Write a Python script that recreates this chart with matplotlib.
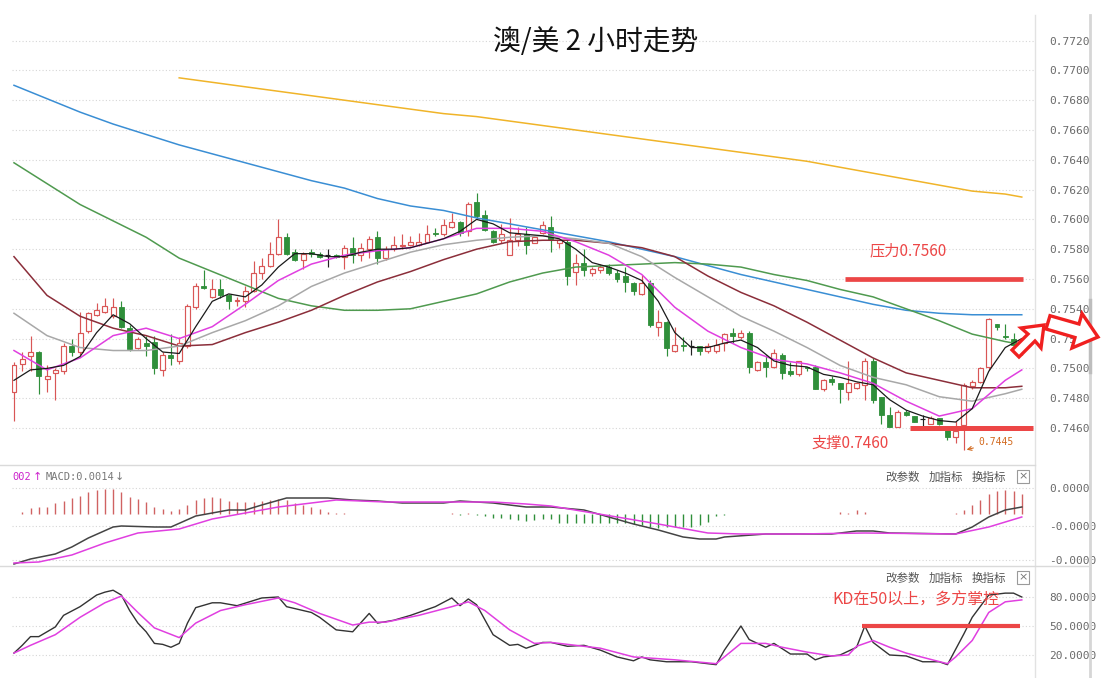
import matplotlib
matplotlib.use("Agg")
import matplotlib.pyplot as plt
from matplotlib.patches import Rectangle, Polygon

W, H = 1104, 678
CJK = ["Noto Sans CJK SC", "DejaVu Sans"]
MONO = "DejaVu Sans Mono"

# ---- AUD/USD 2h candles ----
opens = [.7484, .7503, .7508, .7511, .7493, .7497, .7498, .7515, .7511, .7525,
         .7536, .7538, .7535, .7541, .7527, .7514, .7517, .7518, .7499, .7509,
         .7505, .7515, .7541, .7555, .7548, .7553, .7549, .7545, .7545, .7552,
         .7564, .7569, .7577, .7588, .7578, .7573, .7578, .7577, .7576, .7576,
         .7575, .7581, .7576, .7580, .7588, .7574, .7580, .7582, .7583, .7583,
         .7585, .7591, .7590, .7595, .7598, .7592, .7612, .7603, .7592, .7586,
         .7576, .7586, .7590, .7584, .7591, .7595, .7584, .7585, .7565, .7571,
         .7564, .7566, .7568, .7564, .7562, .7557, .7550, .7557, .7528, .7531,
         .7512, .7516, .7515, .7515, .7512, .7512, .7517, .7524, .7521, .7524,
         .7499, .7504, .7501, .7509, .7498, .7496, .7501, .7501, .7486, .7493,
         .7490, .7484, .7487, .7489, .7505, .7481, .7469, .7461, .7471, .7468,
         .7466, .7463, .7467, .7460, .7454, .7462, .7488, .7491, .7501, .7530,
         .7522, .7520, .7514]
highs = [.7504, .7511, .7522, .7512, .7502, .7500, .7517, .7520, .7538, .7538,
         .7544, .7547, .7547, .7545, .7529, .7521, .7522, .7522, .7511, .7523,
         .7521, .7543, .7557, .7566, .7560, .7560, .7550, .7548, .7555, .7572,
         .7574, .7585, .7600, .7591, .7580, .7578, .7580, .7578, .7580, .7577,
         .7583, .7588, .7584, .7589, .7592, .7582, .7589, .7590, .7589, .7591,
         .7596, .7594, .7600, .7604, .7599, .7612, .7618, .7606, .7593, .7597,
         .7601, .7595, .7595, .7589, .7599, .7602, .7587, .7586, .7577, .7580,
         .7568, .7570, .7570, .7566, .7568, .7558, .7563, .7559, .7539, .7532,
         .7528, .7521, .7519, .7515, .7517, .7520, .7524, .7527, .7526, .7525,
         .7505, .7509, .7513, .7510, .7504, .7505, .7501, .7502, .7493, .7495,
         .7490, .7505, .7491, .7507, .7507, .7481, .7474, .7472, .7472, .7468,
         .7469, .7468, .7467, .7461, .7465, .7490, .7492, .7501, .7534, .7530,
         .7530, .7524, .7515]
lows = [.7465, .7498, .7498, .7483, .7484, .7479, .7496, .7508, .7509, .7524,
        .7535, .7537, .7534, .7527, .7512, .7513, .7508, .7496, .7495, .7502,
        .7503, .7514, .7540, .7553, .7547, .7547, .7540, .7542, .7541, .7551,
        .7560, .7568, .7576, .7576, .7572, .7567, .7575, .7574, .7568, .7574,
        .7567, .7571, .7572, .7574, .7570, .7573, .7579, .7580, .7582, .7582,
        .7584, .7589, .7589, .7594, .7589, .7589, .7601, .7592, .7584, .7584,
        .7576, .7582, .7577, .7584, .7590, .7578, .7581, .7556, .7556, .7562,
        .7562, .7564, .7563, .7558, .7551, .7549, .7549, .7528, .7522, .7508,
        .7511, .7512, .7509, .7509, .7510, .7510, .7512, .7517, .7520, .7497,
        .7498, .7494, .7500, .7493, .7495, .7495, .7498, .7486, .7485, .7489,
        .7477, .7479, .7486, .7479, .7477, .7463, .7461, .7461, .7468, .7464,
        .7460, .7463, .7462, .7452, .7450, .7445, .7486, .7490, .7499, .7526,
        .7520, .7513, .7509]
closes = [.7502, .7506, .7511, .7495, .7495, .7499, .7515, .7511, .7524, .7537,
          .7539, .7542, .7541, .7528, .7513, .7520, .7515, .7500, .7509, .7507,
          .7517, .7542, .7555, .7554, .7553, .7549, .7545, .7546, .7552, .7564,
          .7569, .7577, .7588, .7577, .7573, .7577, .7577, .7575, .7576, .7575,
          .7581, .7576, .7581, .7587, .7574, .7580, .7583, .7583, .7585, .7585,
          .7590, .7590, .7596, .7598, .7591, .7610, .7602, .7593, .7585, .7590,
          .7586, .7590, .7583, .7588, .7596, .7586, .7586, .7562, .7571, .7566,
          .7567, .7568, .7564, .7560, .7558, .7552, .7557, .7529, .7531, .7514,
          .7516, .7515, .7515, .7512, .7515, .7516, .7523, .7522, .7524, .7501,
          .7504, .7501, .7510, .7497, .7496, .7505, .7500, .7486, .7492, .7491,
          .7486, .7490, .7490, .7505, .7479, .7469, .7461, .7471, .7469, .7464,
          .7466, .7467, .7463, .7454, .7458, .7489, .7491, .7500, .7533, .7528,
          .7521, .7516, .7511]

# ---- moving averages, sampled off the chart ----
ma5_idx = list(range(0, 123, 2))
ma5 = [.7492, .7499, .7500, .7502, .7508, .7524, .7536, .7530, .7520, .7511,
       .7510, .7528, .7545, .7550, .7548, .7556, .7568, .7577, .7577, .7575,
       .7575, .7578, .7580, .7580, .7581, .7584, .7587, .7592, .7600, .7597,
       .7591, .7590, .7589, .7587, .7580, .7571, .7568, .7564, .7559, .7545,
       .7524, .7514, .7514, .7517, .7519, .7514, .7505, .7502, .7501, .7496,
       .7494, .7491, .7489, .7479, .7472, .7468, .7465, .7464, .7473, .7498,
       .7514, .7520]
ma_idx = list(range(0, 121, 4)) + [122]
ma10 = [.7512, .7499, .7507, .7522, .7527, .7520, .7528, .7543, .7559, .7570,
        .7576, .7579, .7581, .7587, .7594, .7594, .7592, .7585, .7576, .7563,
        .7541, .7525, .7514, .7506, .7503, .7497, .7490, .7478, .7468, .7473,
        .7492, .7499]
ma20 = [.7537, .7522, .7514, .7512, .7512, .7515, .7524, .7532, .7542, .7555,
        .7564, .7571, .7578, .7583, .7586, .7588, .7589, .7587, .7584, .7575,
        .7561, .7548, .7535, .7525, .7514, .7502, .7494, .7489, .7481, .7478,
        .7483, .7486]
ma30 = [.7575, .7549, .7535, .7527, .7522, .7515, .7516, .7524, .7531, .7539,
        .7549, .7558, .7565, .7573, .7580, .7585, .7586, .7586, .7584, .7581,
        .7575, .7562, .7551, .7542, .7531, .7519, .7507, .7497, .7492, .7487,
        .7487, .7488]
ma60 = [.7638, .7624, .7610, .7599, .7588, .7574, .7565, .7556, .7547, .7542,
        .7539, .7539, .7540, .7545, .7550, .7558, .7564, .7568, .7569, .7570,
        .7571, .7570, .7568, .7563, .7559, .7553, .7548, .7540, .7532, .7523,
        .7518, .7516]
ma120 = [.7690, .7681, .7672, .7664, .7657, .7650, .7644, .7638, .7632, .7626,
         .7621, .7614, .7609, .7606, .7601, .7597, .7593, .7589, .7585, .7580,
         .7575, .7569, .7563, .7558, .7553, .7548, .7543, .7539, .7537, .7536,
         .7536, .7536]
ma250_idx = list(range(20, 121, 4)) + [122]
ma250 = [.7695, .7692, .7689, .7686, .7683, .7680, .7677, .7674, .7671, .7669,
         .7666, .7663, .7660, .7657, .7654, .7651, .7648, .7645, .7642, .7639,
         .7635, .7631, .7627, .7623, .7619, .7617, .7615]

# ---- MACD (units of 0.0001) ----
dif_idx = [0, 2, 5, 7, 9, 12, 13, 17, 19, 22, 24, 26, 28, 30, 33, 38, 41, 44, 47, 52,
           54, 56, 58, 62, 65, 69, 75, 78, 81, 83, 85, 86, 91, 99, 102, 104, 106, 114,
           116, 118, 120, 122]
dif = [-5.0, -4.5, -4.0, -3.3, -2.4, -1.3, -1.2, -1.3, -1.3, -0.2, 0.1, 0.4, 0.4, 0.9,
       1.6, 1.6, 1.4, 1.3, 1.1, 1.1, 1.3, 1.2, 1.1, 0.7, 0.7, 0.4, -1.0, -1.6, -2.3,
       -2.5, -2.5, -2.3, -2.0, -2.0, -1.7, -1.7, -1.9, -2.0, -1.3, -0.3, 0.4, 0.7]
dea_idx = [0, 3, 7, 11, 15, 20, 24, 28, 32, 37, 39, 45, 54, 58, 62, 65, 73, 78, 82, 84,
           88, 95, 103, 114, 118, 122]
dea = [-4.9, -4.8, -4.1, -2.9, -1.9, -1.5, -0.5, 0.1, 0.7, 1.2, 1.4, 1.2, 1.2, 1.2,
       1.0, 0.8, -0.3, -1.0, -1.6, -1.9, -2.0, -2.0, -1.9, -2.0, -1.3, -0.3]
macd_hist = [0.05, 0.23, 0.57, 0.67, 0.73, 1.07, 1.33, 1.57, 1.83, 2.17,
             2.40, 2.50, 2.47, 2.17, 1.73, 1.47, 1.23, 0.73, 0.47, 0.33,
             0.47, 0.90, 1.40, 1.63, 1.67, 1.57, 1.33, 1.23, 1.17, 1.23,
             1.33, 1.40, 1.47, 1.40, 1.07, 0.90, 0.73, 0.47, 0.23, 0.07,
             0.07, 0.03, 0.03, -0.04, -0.04, -0.04, -0.04, -0.04, -0.04, -0.04,
             -0.04, -0.04, -0.04, 0.08, -0.05, 0.08, -0.10, -0.20, -0.43, -0.43,
             -0.53, -0.60, -0.67, -0.60, -0.53, -0.53, -0.93, -0.93, -0.87, -0.93,
             -0.87, -0.93, -0.93, -0.93, -0.93, -1.00, -1.10, -1.27, -1.43, -1.27,
             -1.27, -1.27, -1.27, -1.10, -0.77, -0.20, -0.05, 0.04, -0.04, 0.04,
             0.04, 0.04, -0.04, 0.04, 0.04, 0.04, 0.04, -0.04, 0.04, 0.04,
             0.23, 0.10, 0.40, 0.17, 0.04, 0.04, 0.04, 0.04, 0.04, 0.04,
             0.04, 0.04, 0.04, 0.04, 0.10, 0.40, 0.90, 1.40, 2.00, 2.30,
             2.40, 2.30, 2.00]

# ---- KD ----
k_idx = [0, 1, 2, 3, 5, 6, 8, 10, 11, 12, 13, 14, 15, 16, 17, 18, 19, 20, 21, 22,
         24, 25, 27, 30, 32, 33, 36, 37, 39, 41, 43, 44, 46, 48, 49, 51, 53, 54, 55, 56,
         58, 60, 61, 62, 64, 65, 67, 69, 71, 73, 75, 76, 77, 79, 82, 85, 86, 88, 89, 91,
         92, 94, 96, 97, 98, 100, 102, 103, 104, 106, 108, 110, 112, 113, 115, 116, 118,
         120, 121, 122]
k_val = [22, 30, 39, 39, 49, 61, 70, 82, 85, 87, 82, 66, 53, 44, 32, 31, 28, 32, 53, 69,
         74, 74, 71, 79, 80, 70, 64, 59, 46, 44, 63, 53, 56, 61, 64, 70, 79, 71, 78, 72,
         41, 30, 31, 27, 33, 33, 29, 30, 25, 18, 14, 18, 15, 13, 13, 10, 25, 50, 36, 28,
         32, 21, 21, 15, 18, 20, 28, 50, 33, 20, 19, 13, 13, 10, 42, 59, 82, 84, 84, 80]
d_idx = [0, 2, 5, 8, 11, 13, 15, 17, 20, 22, 25, 28, 32, 34, 37, 41, 43, 45, 49, 53,
         55, 57, 60, 63, 65, 71, 75, 80, 85, 86, 88, 91, 93, 96, 99, 101, 102, 104, 106,
         108, 113, 114, 116, 118, 120, 122]
d_val = [22, 30, 41, 59, 74, 81, 64, 48, 38, 53, 66, 72, 79, 74, 63, 51, 54, 54, 61, 70,
         75, 66, 46, 32, 33, 27, 18, 15, 11, 18, 32, 32, 28, 23, 19, 20, 29, 35, 28, 22,
         11, 18, 35, 64, 75, 77]

price_ticks = [0.7460 + 0.0020 * k for k in range(14)]
macd_ticks = [2.6, -1.2, -4.6]
macd_labels = ["0.0000", "-0.0000", "-0.0000"]
kd_ticks = [80, 50, 20]
kd_labels = ["80.0000", "50.0000", "20.0000"]
support, resistance = 0.7460, 0.7560

UP = "#d95656"
DOWN = "#2f8f3a"
RED = "#ec4646"
MAG = "#e03fe0"
GRIDC = "#d6d6d6"

fig = plt.figure(figsize=(W / 100, H / 100), dpi=100)


def px_axes(x0, y0, x1, y1):
    return fig.add_axes([x0 / W, 1 - y1 / H, (x1 - x0) / W, (y1 - y0) / H])


def style(ax, ticks, labels, ylim):
    ax.set_xlim(-0.24, 123.6)
    ax.set_ylim(*ylim)
    for s in ax.spines.values():
        s.set_visible(False)
    ax.set_xticks([])
    ax.yaxis.tick_right()
    ax.set_yticks(ticks)
    ax.set_yticklabels(labels, fontfamily=MONO, fontsize=8, color="#6a6a6a")
    ax.tick_params(axis="y", length=0, pad=10)
    ax.grid(axis="y", linestyle=(0, (1, 2)), color=GRIDC, lw=0.8)
    ax.set_axisbelow(True)


# ---- main price panel ----
ax = px_axes(12, 5, 1035, 462)
style(ax, price_ticks, [f"{t:.4f}" for t in price_ticks], (0.743718, 0.774389))

bw = 0.6
for i, (o, h, l, c) in enumerate(zip(opens, highs, lows, closes)):
    if c > o:
        ax.vlines(i, c, h, color=UP, lw=0.85, zorder=3)
        ax.vlines(i, l, o, color=UP, lw=0.85, zorder=3)
        ax.add_patch(Rectangle((i - bw / 2, o), bw, c - o, facecolor="white",
                               edgecolor=UP, lw=0.85, zorder=3))
    elif c < o:
        ax.vlines(i, l, h, color=DOWN, lw=0.85, zorder=3)
        ax.add_patch(Rectangle((i - bw / 2, c), bw, o - c, facecolor=DOWN,
                               edgecolor=DOWN, lw=0.6, zorder=3))
    else:
        ax.vlines(i, l, h, color="#222222", lw=0.85, zorder=3)
        ax.hlines(o, i - bw / 2, i + bw / 2, color="#222222", lw=0.85, zorder=3)

ax.plot(ma250_idx, ma250, color="#f0b429", lw=1.1, zorder=4)
ax.plot(ma_idx, ma120, color="#3a8ed4", lw=1.1, zorder=4)
ax.plot(ma_idx, ma60, color="#4f9a4f", lw=1.1, zorder=4)
ax.plot(ma_idx, ma30, color="#8b2e3a", lw=1.1, zorder=4)
ax.plot(ma_idx, ma20, color="#a8a8a8", lw=1.1, zorder=4)
ax.plot(ma_idx, ma10, color=MAG, lw=1.1, zorder=4)
ax.plot(ma5_idx, ma5, color="#1a1a1a", lw=0.9, zorder=4)

ax.hlines(resistance, 100.6, 122.2, color=RED, lw=3.4, zorder=5)
ax.hlines(support, 108.5, 123.3, color=RED, lw=3.6, zorder=5)
low_i = lows.index(min(lows))
ax.annotate(f"{min(lows):.4f}", xy=(low_i, min(lows)), xytext=(116.8, 0.74505),
            fontsize=7, color="#d2691e", family=MONO, va="center",
            arrowprops=dict(arrowstyle="->", color="#d2691e", lw=0.8), zorder=6)

# ---- MACD panel ----
am = px_axes(12, 467, 1035, 565)
style(am, macd_ticks, macd_labels, (-5.1, 4.7))
cols = ["#d06262" if v >= 0 else DOWN for v in macd_hist]
am.vlines(range(len(macd_hist)), 0, macd_hist, colors=cols, lw=1.0)
am.plot(dif_idx, dif, color="#444444", lw=1.1)
am.plot(dea_idx, dea, color=MAG, lw=1.1)

# ---- KD panel ----
ak = px_axes(12, 568, 1035, 678)
style(ak, kd_ticks, kd_labels, (-3.8, 110))
ak.plot(k_idx, k_val, color="#333333", lw=1.0)
ak.plot(d_idx, d_val, color=MAG, lw=1.1)
ak.hlines(50, 102.7, 121.8, color=RED, lw=3.0, zorder=5)

# ---- overlay in pixel coordinates ----
ov = fig.add_axes([0, 0, 1, 1])
ov.set_xlim(0, W)
ov.set_ylim(H, 0)
ov.set_axis_off()
ov.plot([1035, 1035], [15, H], color="#e2e2e2", lw=1)
ov.plot([1090, 1090], [15, H], color="#d6d6d6", lw=2)
ov.plot([1090, 1090], [300, 372], color="#bdbdbd", lw=2.5)
ov.plot([0, 1035], [465, 465], color="#dadada", lw=1)
ov.plot([0, 1090], [566, 566], color="#dadada", lw=1)

ov.text(596, 42, "澳/美 2 小时走势", ha="center", va="center", fontsize=20,
        family=CJK, color="#111111")
ov.text(908, 251, "压力0.7560", ha="center", va="center", fontsize=11,
        family=CJK, color=RED)
ov.text(850, 443, "支撑0.7460", ha="center", va="center", fontsize=11,
        family=CJK, color=RED)
ov.text(916, 600, "KD在50以上，多方掌控", ha="center", va="center", fontsize=11.5,
        family=CJK, color=RED, zorder=6)

ov.text(12, 477, "002", fontsize=7.5, family=MONO, color="#cc22cc", va="center")
ov.text(33, 477, "↑", fontsize=8, color="#cc22cc", va="center")
ov.text(46, 477, "MACD:0.0014", fontsize=7.5, family=MONO, color="#777777", va="center")
ov.text(115, 477, "↓", fontsize=8, color="#777777", va="center")

for yy in (477, 578):
    for xx, s in ((885, "改参数"), (929, "加指标"), (972, "换指标")):
        ov.text(xx, yy, s, fontsize=8.3, family=CJK, color="#555555", va="center")
    ov.add_patch(Rectangle((1017, yy - 7), 12, 13, facecolor="white",
                           edgecolor="#9a9a9a", lw=0.8))
    ov.text(1023, yy - 0.5, "×", fontsize=8, color="#777777", ha="center", va="center")

arrow_ne = [(1044, 325), (1041, 348), (1035, 341), (1019, 357), (1012, 350),
            (1028, 334), (1021, 328)]
arrow_e = [(1098, 337), (1072, 348), (1075, 337.5), (1046, 329), (1050, 315.7),
           (1079, 324), (1082, 313.5)]
for pts in (arrow_ne, arrow_e):
    ov.add_patch(Polygon(pts, closed=True, facecolor="white", edgecolor="#f02020",
                         lw=2.4, joinstyle="miter", zorder=8))

fig.savefig("out.png", dpi=100)
